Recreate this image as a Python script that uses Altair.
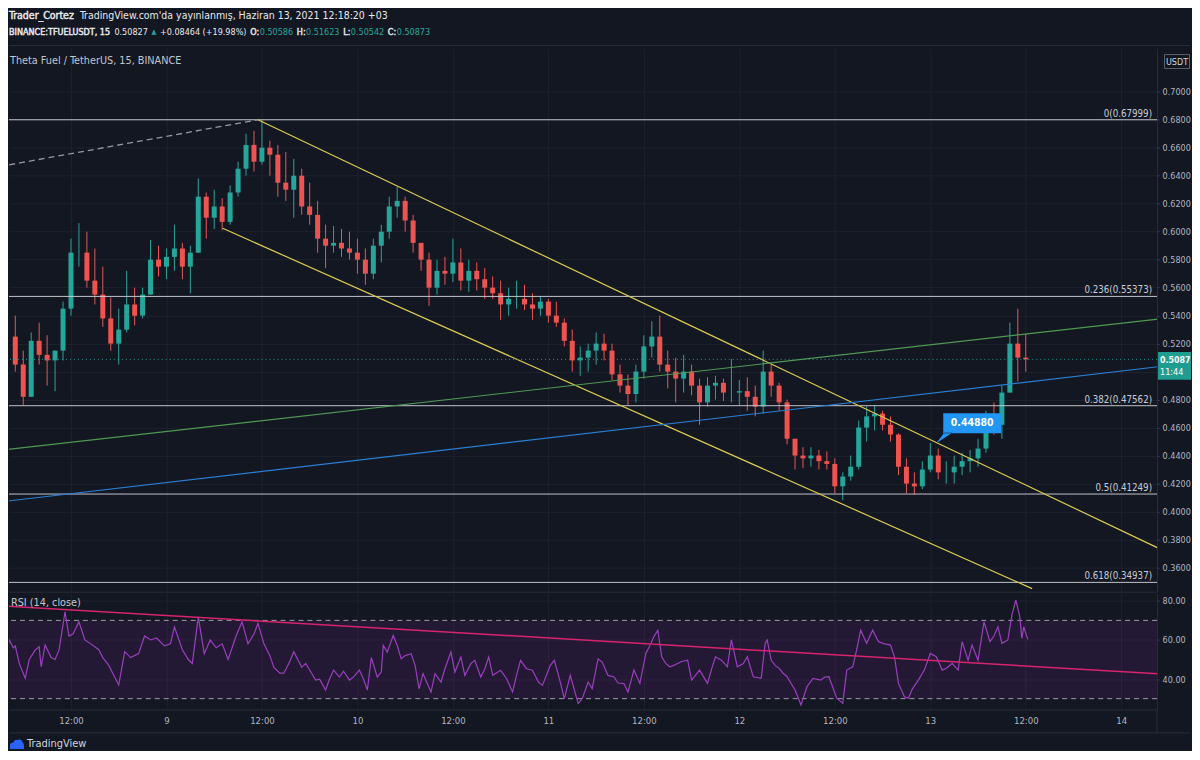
import altair as alt
import pandas as pd

# ---------------- values ----------------
# Hourly candles of TFUEL/USDT; first candle = 2021-06-08 05:00, one per hour.
first_candle_hour = 5  # hours after 2021-06-08 00:00
candle_open = [0.525, 0.505, 0.482, 0.522, 0.512, 0.508, 0.515, 0.545, 0.585, 0.585,
               0.565, 0.555, 0.538, 0.520, 0.530, 0.548, 0.540, 0.555, 0.580, 0.575,
               0.582, 0.588, 0.575, 0.585, 0.625, 0.610, 0.618, 0.607, 0.628, 0.645,
               0.662, 0.650, 0.660, 0.655, 0.635, 0.630, 0.640, 0.618, 0.612, 0.595,
               0.590, 0.592, 0.588, 0.585, 0.580, 0.570, 0.590, 0.600, 0.618, 0.622,
               0.608, 0.592, 0.580, 0.560, 0.572, 0.570, 0.578, 0.565, 0.572, 0.566,
               0.560, 0.556, 0.548, 0.552, 0.552, 0.548, 0.545, 0.550, 0.540, 0.535,
               0.522, 0.508, 0.510, 0.515, 0.520, 0.515, 0.498, 0.490, 0.484, 0.500,
               0.518, 0.525, 0.505, 0.500, 0.495, 0.500, 0.490, 0.478, 0.490, 0.492,
               0.485, 0.485, 0.486, 0.482, 0.475, 0.500, 0.490, 0.478, 0.452, 0.440,
               0.438, 0.440, 0.436, 0.434, 0.418, 0.425, 0.432, 0.460, 0.468, 0.470,
               0.462, 0.455, 0.432, 0.420, 0.418, 0.430, 0.440, 0.428, 0.428, 0.432,
               0.436, 0.438, 0.445, 0.465, 0.462, 0.485, 0.520, 0.510]
candle_high = [0.540, 0.515, 0.528, 0.535, 0.526, 0.515, 0.550, 0.595, 0.606, 0.600,
               0.588, 0.575, 0.553, 0.545, 0.572, 0.560, 0.560, 0.594, 0.590, 0.588,
               0.605, 0.592, 0.590, 0.638, 0.628, 0.630, 0.624, 0.633, 0.650, 0.670,
               0.672, 0.680, 0.665, 0.662, 0.657, 0.652, 0.645, 0.635, 0.622, 0.605,
               0.604, 0.602, 0.600, 0.595, 0.588, 0.595, 0.605, 0.625, 0.632, 0.625,
               0.612, 0.592, 0.585, 0.580, 0.582, 0.595, 0.588, 0.580, 0.578, 0.574,
               0.568, 0.565, 0.560, 0.565, 0.562, 0.556, 0.554, 0.552, 0.550, 0.538,
               0.530, 0.518, 0.520, 0.528, 0.527, 0.520, 0.505, 0.498, 0.505, 0.526,
               0.536, 0.540, 0.515, 0.510, 0.512, 0.505, 0.495, 0.496, 0.497, 0.495,
               0.509, 0.494, 0.496, 0.490, 0.515, 0.505, 0.492, 0.480, 0.452, 0.446,
               0.446, 0.444, 0.443, 0.438, 0.428, 0.440, 0.465, 0.475, 0.476, 0.472,
               0.468, 0.456, 0.438, 0.428, 0.436, 0.449, 0.445, 0.436, 0.440, 0.442,
               0.444, 0.452, 0.472, 0.478, 0.490, 0.535, 0.545, 0.527]
candle_low = [0.500, 0.476, 0.482, 0.505, 0.490, 0.486, 0.508, 0.540, 0.575, 0.560,
              0.548, 0.532, 0.515, 0.505, 0.528, 0.533, 0.538, 0.555, 0.568, 0.566,
              0.572, 0.566, 0.556, 0.585, 0.595, 0.602, 0.601, 0.605, 0.625, 0.640,
              0.643, 0.648, 0.640, 0.625, 0.622, 0.610, 0.612, 0.605, 0.585, 0.574,
              0.585, 0.582, 0.580, 0.570, 0.562, 0.566, 0.578, 0.595, 0.610, 0.600,
              0.585, 0.572, 0.547, 0.555, 0.562, 0.564, 0.558, 0.557, 0.558, 0.552,
              0.552, 0.537, 0.540, 0.545, 0.544, 0.537, 0.540, 0.535, 0.532, 0.518,
              0.500, 0.497, 0.500, 0.505, 0.508, 0.494, 0.485, 0.476, 0.478, 0.495,
              0.510, 0.500, 0.488, 0.478, 0.485, 0.483, 0.462, 0.475, 0.480, 0.479,
              0.478, 0.476, 0.472, 0.468, 0.470, 0.482, 0.472, 0.448, 0.430, 0.431,
              0.432, 0.430, 0.430, 0.413, 0.408, 0.422, 0.430, 0.450, 0.458, 0.458,
              0.450, 0.426, 0.413, 0.412, 0.416, 0.428, 0.423, 0.420, 0.420, 0.426,
              0.428, 0.432, 0.442, 0.455, 0.452, 0.485, 0.493, 0.500]
candle_close = [0.505, 0.482, 0.522, 0.512, 0.508, 0.515, 0.545, 0.585, 0.585, 0.565,
                0.555, 0.538, 0.520, 0.530, 0.548, 0.540, 0.555, 0.580, 0.575, 0.582,
                0.588, 0.575, 0.585, 0.625, 0.610, 0.618, 0.607, 0.628, 0.645, 0.662,
                0.650, 0.660, 0.655, 0.635, 0.630, 0.640, 0.618, 0.612, 0.595, 0.590,
                0.592, 0.588, 0.585, 0.580, 0.570, 0.590, 0.600, 0.618, 0.622, 0.608,
                0.592, 0.580, 0.560, 0.572, 0.570, 0.578, 0.565, 0.572, 0.566, 0.560,
                0.556, 0.548, 0.552, 0.552, 0.548, 0.545, 0.550, 0.540, 0.535, 0.522,
                0.508, 0.510, 0.515, 0.520, 0.515, 0.498, 0.490, 0.484, 0.500, 0.518,
                0.525, 0.505, 0.500, 0.495, 0.500, 0.490, 0.478, 0.490, 0.492, 0.485,
                0.485, 0.486, 0.482, 0.475, 0.500, 0.490, 0.478, 0.452, 0.440, 0.438,
                0.440, 0.436, 0.434, 0.418, 0.425, 0.432, 0.460, 0.468, 0.470, 0.462,
                0.455, 0.432, 0.420, 0.418, 0.430, 0.440, 0.428, 0.428, 0.432, 0.436,
                0.438, 0.445, 0.465, 0.462, 0.485, 0.520, 0.510, 0.50873]

# RSI(14, close) readings: index of the 15-minute bar after 2021-06-08 05:00, and value
rsi_bar = [-5, -3, -1, 0, 2, 5, 7, 10, 12, 13,
           15, 18, 20, 22, 25, 27, 29, 32, 35, 38,
           42, 44, 47, 49, 52, 55, 58, 62, 65, 68,
           71, 75, 78, 80, 84, 87, 89, 92, 95, 98,
           101, 104, 107, 111, 114, 117, 120, 122, 125, 128,
           130, 133, 135, 138, 140, 144, 146, 149, 151, 153,
           156, 158, 160, 163, 165, 168, 170, 173, 175, 177,
           179, 182, 184, 185, 187, 190, 192, 194, 196, 199,
           201, 203, 205, 207, 209, 211, 214, 216, 219, 221,
           224, 226, 229, 231, 234, 236, 238, 240, 244, 247,
           250, 252, 254, 257, 260, 263, 265, 269, 271, 274,
           276, 279, 283, 285, 288, 290, 293, 295, 298, 301,
           303, 306, 308, 311, 314, 317, 319, 321, 323, 325,
           327, 329, 331, 333, 335, 338, 340, 342, 344, 348,
           350, 352, 355, 358, 360, 363, 366, 368, 371, 375,
           377, 378, 380, 382, 384, 386, 388, 392, 395, 398,
           401, 405, 407, 409, 413, 416, 418, 421, 423, 425,
           428, 431, 434, 437, 440, 442, 444, 447, 449, 451,
           454, 457, 460, 463, 466, 468, 471, 474, 476, 479,
           481, 484, 487, 490, 492, 494, 496, 499, 501, 503,
           505, 506, 507, 509]
rsi_value = [49.7, 60, 56, 57, 48, 40.4, 50, 54.8, 56.5, 46.3,
             57.4, 51, 50, 54.8, 74.4, 62, 63, 69.3, 60, 58,
             55, 51, 47, 43, 37, 54, 51, 53, 62, 60,
             61, 57, 58, 66.7, 55, 50, 48, 71.8, 53, 60,
             56, 58, 50, 62, 69.3, 58, 63, 68.5, 58, 52,
             46, 43, 43, 49, 54, 46, 48, 43, 39.5, 40,
             34.4, 40, 44.6, 41, 44, 39.5, 41, 44.6, 40, 34.4,
             51, 41, 43.6, 57.2, 53.8, 62.3, 57.2, 50.4, 52, 53,
             47, 35, 42.8, 38, 33.4, 42.8, 38.5, 45.3, 53.8, 43.6,
             51.3, 41.9, 47.9, 49.6, 41.1, 45, 51.3, 41.9, 44.5, 40.2,
             33.4, 42, 49.6, 45.3, 44.5, 38.5, 36.8, 47, 49.6, 38.5,
             30, 41.9, 27.5, 30, 38.5, 35.1, 50.4, 48.7, 41.9, 41.1,
             38, 37.7, 33.4, 44.6, 37.8, 53.1, 57, 61.6, 65, 51.4,
             48, 46.3, 47, 48, 49, 49.7, 39.5, 42, 44.6, 37.8,
             45, 51.4, 49.7, 46.3, 60, 46.3, 48, 51.4, 41.2, 40.4,
             58.3, 60, 49.7, 47, 45.5, 43, 41.2, 34.4, 26.8, 36.1,
             40.4, 39.5, 41, 41.2, 30.2, 27.6, 44.6, 46.3, 55, 65,
             58.3, 65, 59.1, 58, 57.4, 51.4, 37.8, 31, 30.2, 35,
             39.5, 44.6, 53.1, 51.4, 44.6, 45.5, 48, 44.6, 59.1, 49.7,
             57.4, 49.7, 69.3, 59.1, 62, 66.7, 58.3, 60, 72.7, 80.4,
             71.9, 60.8, 66.7, 60.3]

# Fibonacci retracement levels
fib_price = [0.67999, 0.55373, 0.47562, 0.41249, 0.34937]
fib_text = ["0(0.67999)", "0.236(0.55373)", "0.382(0.47562)", "0.5(0.41249)", "0.618(0.34937)"]

last_price = 0.50873
last_price_text = "0.5087"
countdown_text = "11:44"
callout_hour = 120.75
callout_price = 0.4488
callout_text = "0.44880"

# drawn lines: ends as (hour after 2021-06-08 00:00, price)
dashed_h, dashed_p = [3.0, 35.5], [0.6465, 0.67999]
upper_h, upper_p = [35.5, 152.0], [0.67999, 0.3648]
lower_h, lower_p = [31.06, 132.8], [0.6024, 0.3449]
green_h, green_p = [3.0, 152.0], [0.4437, 0.5397]
blue_h, blue_p = [3.0, 152.0], [0.4068, 0.5057]
rsi_trend_h, rsi_trend_v = [3.0, 152.0], [77.5, 41.9]
rsi_levels = [70, 30]

price_ticks = [0.36, 0.38, 0.40, 0.42, 0.44, 0.46, 0.48, 0.50, 0.52, 0.54,
               0.56, 0.58, 0.60, 0.62, 0.64, 0.66, 0.68, 0.70]
rsi_ticks = [40, 60, 80]
time_ticks = [12, 24, 36, 48, 60, 72, 84, 96, 108, 120, 132, 144]

# ---------------- styling ----------------
BG = "#131722"
GRID = "#1e222d"
BORDER = "#2a2e39"
TXT = "#b2b5be"
UP = "#26a69a"
DOWN = "#ef5350"
FONT = "DejaVu Sans Condensed, DejaVu Sans, sans-serif"
AX = 9

W = 1150           # plot width (the whole drawing stays within 1184 px)
RIGHT = 1183       # right end of the drawing, relative to the plot origin
H_HDR = 37
H_MAIN = 544
H_RSI = 116
XDOM = [4.21, 148.50]
YDOM = [0.34274, 0.73087]
RDOM = [24.49, 83.67]

xscale = alt.Scale(domain=XDOM, nice=False, zero=False, padding=0)
yscale = alt.Scale(domain=YDOM, nice=False, zero=False, padding=0)
rscale = alt.Scale(domain=RDOM, nice=False, zero=False, padding=0)

main_xaxis = alt.Axis(values=time_ticks, labels=False, ticks=False, domain=True,
                      domainColor=BORDER, grid=True, gridColor=GRID, title=None,
                      minExtent=0, maxExtent=0)
main_yaxis = alt.Axis(orient="right", values=price_ticks, format=".4f", labelColor=TXT,
                      labelExpr="abs(datum.value - 0.5) < 0.001 ? '' : datum.label",
                      labelFont=FONT, labelFontSize=AX, tickSize=2, tickColor="#434651",
                      domain=True, domainColor=BORDER, grid=True, gridColor=GRID,
                      title=None, labelPadding=3)
rsi_xaxis = alt.Axis(values=time_ticks,
                     labelExpr="datum.value % 24 == 0 ? '' + (8 + datum.value / 24) : '12:00'",
                     grid=True, gridColor=GRID, ticks=False, domain=True, domainColor=BORDER,
                     labelColor=TXT, labelFont=FONT, labelFontSize=9.5, labelPadding=6,
                     title=None, labelFlush=False)
rsi_yaxis = alt.Axis(orient="right", values=rsi_ticks, format=".2f", labelColor=TXT,
                     labelFont=FONT, labelFontSize=AX, tickSize=2, tickColor="#434651",
                     domain=True, domainColor=BORDER, grid=True, gridColor=GRID,
                     title=None, labelPadding=3)


def mx(f):
    return alt.X(f + ":Q", scale=xscale, axis=main_xaxis)


def my(f):
    return alt.Y(f + ":Q", scale=yscale, axis=main_yaxis)


def rx(f):
    return alt.X(f + ":Q", scale=xscale, axis=rsi_xaxis)


def ry(f):
    return alt.Y(f + ":Q", scale=rscale, axis=rsi_yaxis)


one = pd.DataFrame({"a": [0]})


def htext(txt, x, y, color="#d1d4dc", bold=False, size=10.5):
    kw = dict(text=txt, align="left", baseline="middle", color=color, font=FONT, fontSize=size)
    if bold:
        kw.update(stroke=color, strokeWidth=0.45)
    return alt.Chart(one).mark_text(**kw).encode(x=alt.value(x), y=alt.value(y))


# ---------------- header ----------------
WHITE = "#e8e9ec"
header = alt.layer(
    htext("Trader_Cortez", 0, 6, WHITE, True, 10.5),
    htext("TradingView.com'da yayınlanmış, Haziran 13, 2021 12:18:20 +03", 71, 6, WHITE, size=10.5),
    htext("BINANCE:TFUELUSDT, 15", 0, 22, WHITE, True, 9),
    htext("0.50827", 105.6, 22, WHITE, size=9),
    htext("▲", 142.7, 22, UP, size=7),
    htext("+0.08464 (+19.98%)", 151.2, 22, WHITE, size=9),
    htext("O:", 241.6, 22, WHITE, True, 9),
    htext("0.50586", 251.2, 22, UP, size=9),
    htext("H:", 288.3, 22, WHITE, True, 9),
    htext("0.51623", 297.6, 22, UP, size=9),
    htext("L:", 334.7, 22, WHITE, True, 9),
    htext("0.50542", 342.4, 22, UP, size=9),
    htext("C:", 379.5, 22, WHITE, True, 9),
    htext("0.50873", 388.4, 22, UP, size=9),
    alt.Chart(one).mark_rule(color=BORDER).encode(
        x=alt.value(0), x2=alt.value(RIGHT), y=alt.value(36)),
).properties(width=W, height=H_HDR)

# ---------------- main price pane ----------------
cdf = pd.DataFrame({
    "h": [first_candle_hour + i for i in range(len(candle_close))],
    "open": candle_open, "high": candle_high, "low": candle_low, "close": candle_close,
})
candle_color = alt.when(alt.datum.close >= alt.datum.open).then(alt.value(UP)).otherwise(alt.value(DOWN))

wicks = alt.Chart(cdf).mark_rule(strokeWidth=1).encode(
    x=mx("h"), y=my("low"), y2="high:Q", color=candle_color)
bodies = alt.Chart(cdf).mark_bar(size=5).encode(
    x=mx("h"), y=my("open"), y2="close:Q", color=candle_color)

fdf = pd.DataFrame({"p": fib_price, "label": fib_text})
fib_rules = alt.Chart(fdf).mark_rule(color="#c3c5cc", strokeWidth=1).encode(y=my("p"))
fib_labels = alt.Chart(fdf).mark_text(
    align="right", baseline="bottom", dy=-1, color="#c9ccd3", font=FONT, fontSize=9.7
).encode(x=alt.value(1145), y=my("p"), text="label:N")


def seg(hs, ps):
    return pd.DataFrame({"h": hs, "p": ps})


def tline(hs, ps, color, width=1.2, dash=None):
    kw = dict(color=color, strokeWidth=width, clip=True)
    if dash:
        kw["strokeDash"] = dash
    return alt.Chart(seg(hs, ps)).mark_line(**kw).encode(x=mx("h"), y=my("p"))


lines = [
    tline(dashed_h, dashed_p, "#9598a1", 1.3, [6, 4]),
    tline(upper_h, upper_p, "#dccb4f"),
    tline(lower_h, lower_p, "#dccb4f"),
    tline(green_h, green_p, "#4f9a52"),
    tline(blue_h, blue_p, "#2a7fd4"),
]

lp = pd.DataFrame({"p": [last_price], "t1": [last_price_text], "t2": [countdown_text]})
last_rule = alt.Chart(lp).mark_rule(color=UP, strokeDash=[1, 3], strokeWidth=1, opacity=0.9).encode(y=my("p"))
tag_box = alt.Chart(lp).mark_point(
    shape="M-1,-0.848 L1,-0.848 L1,0.848 L-1,0.848 Z", size=1089, filled=True,
    color="#1f9d90", opacity=1, strokeWidth=0, yOffset=6.5
).encode(x=alt.value(1167.5), y=my("p"))
tag_t1 = alt.Chart(lp).mark_text(
    align="left", baseline="middle", dy=1, color="white", fontWeight="bold", font=FONT, fontSize=8.8
).encode(x=alt.value(1153), y=my("p"), text="t1:N")
tag_t2 = alt.Chart(lp).mark_text(
    align="left", baseline="middle", dy=13, color="white", font=FONT, fontSize=9
).encode(x=alt.value(1153), y=my("p"), text="t2:N")

co = pd.DataFrame({"h": [callout_hour], "p": [callout_price], "t": [callout_text]})
callout_box = alt.Chart(co).mark_point(
    shape="M0,0 L0.114,-0.15 L0.229,-0.15 Z M0.1,-0.143 L0.929,-0.143 L0.929,-0.429 L0.1,-0.429 Z",
    size=19600, filled=True, color="#2196f3", opacity=1, strokeWidth=0
).encode(x=mx("h"), y=my("p"))
callout_txt = alt.Chart(co).mark_text(
    align="center", baseline="middle", dx=36, dy=-20, color="white", fontWeight="bold",
    font=FONT, fontSize=10.5
).encode(x=mx("h"), y=my("p"), text="t:N")

pane_title = htext("Theta Fuel / TetherUS, 15, BINANCE", 1, 12, "#c3c6cd", size=10.8)
usdt_box = alt.Chart(one).mark_point(
    shape="M-1,-0.56 L1,-0.56 L1,0.56 L-1,0.56 Z", size=625, filled=False,
    color="#5d606b", strokeWidth=1, opacity=1
).encode(x=alt.value(1170), y=alt.value(13))
usdt_txt = alt.Chart(one).mark_text(
    text="USDT", align="center", baseline="middle", color="#d1d4dc", font=FONT, fontSize=9
).encode(x=alt.value(1170), y=alt.value(13))

main = alt.layer(
    wicks, bodies, fib_rules, fib_labels, *lines, last_rule,
    callout_box, callout_txt, tag_box, tag_t1, tag_t2, pane_title, usdt_box, usdt_txt
).properties(width=W, height=H_MAIN)

# ---------------- RSI pane ----------------
rdf = pd.DataFrame({"h": [first_candle_hour + b / 4 for b in rsi_bar], "v": rsi_value})
band = alt.Chart(pd.DataFrame({"v": [rsi_levels[1]], "v2": [rsi_levels[0]]})).mark_rect(
    color="#9c27b0", opacity=0.13
).encode(x=alt.value(0), x2=alt.value(W), y=ry("v"), y2="v2:Q")
level_rules = alt.Chart(pd.DataFrame({"v": rsi_levels})).mark_rule(
    color="#b2b5be", strokeDash=[5, 4], strokeWidth=1, opacity=0.85
).encode(y=ry("v"))
rsi_line = alt.Chart(rdf).mark_line(color="#9b3fbf", strokeWidth=1.2, clip=True).encode(
    x=rx("h"), y=ry("v"))
rsi_trend = alt.Chart(pd.DataFrame({"h": rsi_trend_h, "v": rsi_trend_v})).mark_line(
    color="#d6246e", strokeWidth=1.5, clip=True).encode(x=rx("h"), y=ry("v"))
rsi_title = htext("RSI (14, close)", 2, 9, "#c3c6cd", size=10.8)
bottom_rule = alt.Chart(one).mark_rule(color=BORDER).encode(
    x=alt.value(0), x2=alt.value(RIGHT), y=alt.value(H_RSI + 23.5))
scale_rule = alt.Chart(one).mark_rule(color=BORDER).encode(
    x=alt.value(W), y=alt.value(H_RSI), y2=alt.value(H_RSI + 23.5))
logo_icon = alt.Chart(one).mark_point(
    shape="M-1,0.6 L-1,0.1 Q-1,-0.35 -0.55,-0.3 Q-0.35,-0.85 0.15,-0.7 Q0.55,-0.9 0.8,-0.4 Q1,-0.2 1,0.2 L1,0.6 Z",
    size=196, filled=True, color="#2962ff", opacity=1, strokeWidth=0
).encode(x=alt.value(8), y=alt.value(H_RSI + 35.5))
logo_txt = htext("TradingView", 18, H_RSI + 35, "#d1d4dc", size=11)

rsi = alt.layer(
    band, level_rules, rsi_line, rsi_trend, rsi_title, bottom_rule, scale_rule, logo_icon, logo_txt
).properties(width=W, height=H_RSI)

chart = alt.vconcat(header, main, rsi, spacing=0, padding=0, background=BG).configure_view(
    stroke="transparent")

chart.save("out.html", embed_options={"renderer": "svg", "actions": False})
